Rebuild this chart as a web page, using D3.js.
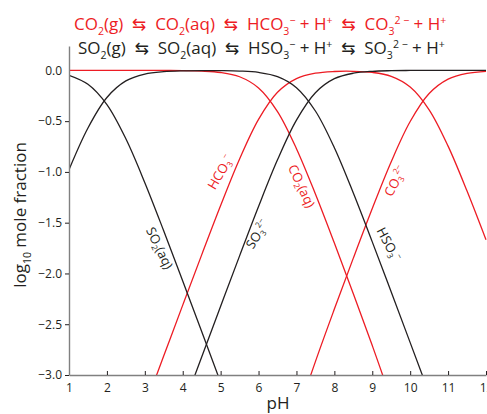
<!DOCTYPE html>
<html>
<head>
<meta charset="utf-8">
<script src="https://cdn.jsdelivr.net/npm/d3@7"></script>
<style>
  html, body { margin: 0; padding: 0; background: #fff; }
  svg { display: block; }
  text { font-family: "Open Sans", "DejaVu Sans", sans-serif; white-space: pre; }
</style>
</head>
<body>
<svg id="chart" width="487" height="414"></svg>
<script>
// pH grid
const pH = [1, 1.5, 2, 2.5, 3, 3.5, 4, 4.5, 5, 5.5, 6, 6.5, 7, 7.5, 8, 8.5, 9, 9.5, 10, 10.5, 11, 11.5, 12];

// SO2 system (black), log10 mole fraction
const so2aq = [-0.048, -0.137, -0.337, -0.674, -1.106, -1.582, -2.074, -2.572, -3.073, -3.577, -4.090, -4.631, -5.240, -5.970, -6.832, -7.778, -8.759, -9.753, -10.751, -11.750, -12.750, -13.750, -14.750];
const hso3 = [-0.978, -0.567, -0.267, -0.104, -0.036, -0.012, -0.004, -0.002, -0.003, -0.007, -0.020, -0.061, -0.170, -0.400, -0.762, -1.208, -1.689, -2.183, -2.681, -3.180, -3.680, -4.180, -4.680];
const so3 = [-7.298, -6.387, -5.587, -4.924, -4.356, -3.832, -3.324, -2.822, -2.323, -1.827, -1.340, -0.881, -0.490, -0.220, -0.082, -0.028, -0.009, -0.003, -0.001, 0, 0, 0, 0];

// CO2 system (red)
const co2aq = [0, 0, 0, 0, 0, -0.001, -0.002, -0.007, -0.021, -0.063, -0.173, -0.406, -0.771, -1.218, -1.701, -2.199, -2.710, -3.249, -3.854, -4.578, -5.436, -6.379, -7.359];
const hco3 = [-5.310, -4.810, -4.310, -3.810, -3.310, -2.811, -2.312, -1.817, -1.331, -0.873, -0.483, -0.216, -0.081, -0.028, -0.011, -0.009, -0.020, -0.059, -0.164, -0.388, -0.746, -1.189, -1.669];
const co3 = [-14.650, -13.650, -12.650, -11.650, -10.650, -9.651, -8.652, -7.657, -6.671, -5.713, -4.823, -4.056, -3.421, -2.868, -2.351, -1.849, -1.360, -0.899, -0.504, -0.228, -0.086, -0.029, -0.009];

const xTicks = [1, 2, 3, 4, 5, 6, 7, 8, 9, 10, 11, 12];
const yTicks = [0, -0.5, -1, -1.5, -2, -2.5, -3];

const RED = "#ed1c24", BLACK = "#231f20", GRAY = "#808080";

const svg = d3.select("#chart");
const x = d3.scaleLinear().domain([1, 12]).range([69, 486]);
const y = d3.scaleLinear().domain([-3, 0.24]).range([375, 46]);

// rich text helper (sub / sup)
function rich(g, parts, size) {
  const t = g.append("text").attr("font-size", size);
  let off = 0;
  parts.forEach(p => {
    const s = p[0], m = p[1] || "";
    const target = m === "sub" ? size * 0.28 : m === "sup" ? -size * 0.38 : 0;
    t.append("tspan")
      .attr("dy", (target - off).toFixed(2))
      .attr("font-size", m ? (size * 0.62).toFixed(2) : size)
      .text(s);
    off = target;
  });
  return t;
}

// clip
svg.append("defs").append("clipPath").attr("id", "plotclip")
  .append("rect").attr("x", 69).attr("y", 40).attr("width", 420).attr("height", 335);

const line = d3.line().x((d, i) => x(pH[i])).y(d => y(d)).curve(d3.curveCatmullRom);
const series = [
  { v: co2aq, c: RED }, { v: hco3, c: RED }, { v: co3, c: RED },
  { v: so2aq, c: BLACK }, { v: hso3, c: BLACK }, { v: so3, c: BLACK }
];
const plot = svg.append("g").attr("clip-path", "url(#plotclip)");
series.forEach(s => {
  plot.append("path").datum(s.v).attr("d", line)
    .attr("fill", "none").attr("stroke", s.c).attr("stroke-width", 1.3);
});

// axes
const xAxis = svg.append("g").attr("transform", "translate(0,375)")
  .call(d3.axisBottom(x).tickValues(xTicks).tickSizeInner(-4).tickSizeOuter(0).tickPadding(8).tickFormat(d3.format("d")));
const yAxis = svg.append("g").attr("transform", "translate(69,0)")
  .call(d3.axisLeft(y).tickValues(yTicks).tickSizeInner(4).tickSizeOuter(0).tickPadding(3).tickFormat(d3.format(".1f")));
[xAxis, yAxis].forEach(a => {
  a.select(".domain").attr("stroke", GRAY).attr("stroke-width", 1.4);
  a.selectAll(".tick line").attr("stroke", BLACK).attr("stroke-width", 1);
  a.selectAll(".tick text").attr("fill", BLACK).attr("font-size", 12)
    .attr("font-family", "'Open Sans', 'DejaVu Sans', sans-serif");
});
yAxis.selectAll(".tick").filter(d => d === 0).select("line").remove();

// titles
rich(svg.append("g").attr("transform", "translate(74,30)"), [
  ["CO"], ["2", "sub"], ["(g)  \u21C6  CO"], ["2", "sub"], ["(aq)  \u21C6  HCO"], ["3", "sub"], ["\u2212", "sup"],
  [" + H"], ["+", "sup"], ["  \u21C6  CO"], ["3", "sub"], ["2 \u2212", "sup"], [" + H"], ["+", "sup"]
], 17).attr("fill", RED);
rich(svg.append("g").attr("transform", "translate(78,54)"), [
  ["SO"], ["2", "sub"], ["(g)  \u21C6  SO"], ["2", "sub"], ["(aq)  \u21C6  HSO"], ["3", "sub"], ["\u2212", "sup"],
  [" + H"], ["+", "sup"], ["  \u21C6  SO"], ["3", "sub"], ["2 \u2212", "sup"], [" + H"], ["+", "sup"]
], 17).attr("fill", BLACK);

// axis labels
rich(svg.append("g").attr("transform", "translate(278,409)"), [["pH"]], 17)
  .attr("text-anchor", "middle").attr("fill", BLACK);
rich(svg.append("g").attr("transform", "translate(26,215) rotate(-90)"), [["log"], ["10", "sub"], [" mole fraction"]], 17)
  .attr("text-anchor", "middle").attr("fill", BLACK);

// curve labels
const labels = [
  { p: [["HCO"], ["3", "sub"], ["\u2212", "sup"]], cx: 220, cy: 172, r: -60, c: RED },
  { p: [["CO"], ["2", "sub"], ["(aq)"]], cx: 302, cy: 186, r: 65, c: RED },
  { p: [["CO"], ["3", "sub"], ["2\u2212", "sup"]], cx: 395, cy: 181, r: -62, c: RED },
  { p: [["SO"], ["2", "sub"], ["(aq)"]], cx: 160, cy: 248, r: 64, c: BLACK },
  { p: [["SO"], ["3", "sub"], ["2\u2212", "sup"]], cx: 257, cy: 234, r: -58, c: BLACK },
  { p: [["HSO"], ["3", "sub"], ["\u2212", "sup"]], cx: 389, cy: 244, r: 62, c: BLACK }
];
labels.forEach(l => {
  rich(svg.append("g").attr("transform", `translate(${l.cx},${l.cy}) rotate(${l.r})`), l.p, 13)
    .attr("text-anchor", "middle").attr("dominant-baseline", "central").attr("fill", l.c);
});
</script>
</body>
</html>
